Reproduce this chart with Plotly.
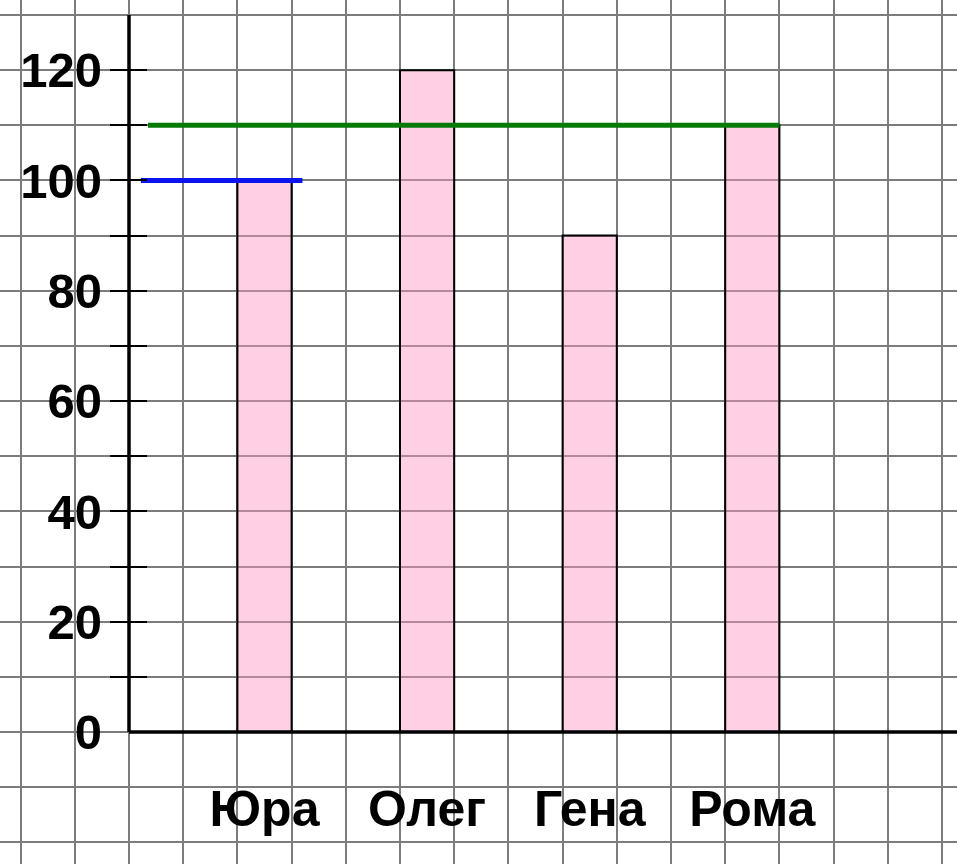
import plotly.graph_objects as go

# ---- data ----
names = ["Юра", "Олег", "Гена", "Рома"]
scores = [100, 120, 90, 110]
y_tick_values = [0, 20, 40, 60, 80, 100, 120]
y_tick_labels = ["0", "20", "40", "60", "80", "100", "120"]
minor_tick_values = [10, 20, 30, 40, 50, 60, 70, 80, 90, 100, 110, 120]

# ---- layout constants (grid paper in cell units) ----
W, H = 957, 864
cell_px = 54.2
x_axis_px = 129
y0_px, y130_px = 732, 15
y_scale = (y0_px - y130_px) / 130.0
x_range = [-x_axis_px / cell_px, (W - x_axis_px) / cell_px]
y_range = [-(H - y0_px) / y_scale, y0_px / y_scale]
bar_pos = [2.5 + 3 * i for i in range(len(names))]
y_axis_top = 130
tick_left_px, tick_right_px = 19, 18

fig = go.Figure()

fig.add_trace(go.Bar(
    x=bar_pos, y=scores, width=1,
    marker=dict(color="rgba(255,150,195,0.45)", line=dict(color="black", width=2)),
    showlegend=False, hoverinfo="skip",
))

# level lines for Юра and Рома
lines = [(0, 0.22, 0.2, "#0a14f0", 5), (3, 0.35, 0.0, "#087a08", 5)]
for idx, start, extra, color, w in lines:
    fig.add_trace(go.Scatter(
        x=[start, bar_pos[idx] + 0.5 + extra], y=[scores[idx], scores[idx]],
        mode="lines", line=dict(color=color, width=w),
        showlegend=False, hoverinfo="skip",
    ))

# axis lines
fig.add_shape(type="line", xref="x", yref="y", x0=0, x1=0, y0=0, y1=y_axis_top,
              line=dict(color="black", width=3.5), layer="above")
fig.add_shape(type="line", xref="x", yref="y", x0=0, x1=x_range[1], y0=0, y1=0,
              line=dict(color="black", width=3.5), layer="above")

x_pos_paper = (0 - x_range[0]) / (x_range[1] - x_range[0])
tick_axis_paper = (tick_right_px / cell_px - x_range[0]) / (x_range[1] - x_range[0])
y_pos_paper = (0 - y_range[0]) / (y_range[1] - y_range[0])

grid = dict(showgrid=True, gridcolor="#7c7c7c", gridwidth=1.5, zeroline=False,
            showticklabels=False, ticks="", layer="above traces", automargin=False)
fig.update_layout(
    width=W, height=H,
    margin=dict(l=0, r=0, t=0, b=0, pad=0, autoexpand=False),
    paper_bgcolor="white", plot_bgcolor="white",
    xaxis=dict(range=x_range, tick0=0, dtick=1, **grid),
    yaxis=dict(range=y_range, tick0=0, dtick=10, **grid),
    xaxis2=dict(overlaying="x", range=x_range, anchor="free", position=y_pos_paper,
                tickmode="array", tickvals=bar_pos, ticktext=names, automargin=False,
                showgrid=False, zeroline=False, ticks="", ticklabelstandoff=43,
                tickfont=dict(family="Liberation Sans", size=50, color="black",
                              weight="bold")),
    yaxis2=dict(overlaying="y", range=y_range, anchor="free", position=x_pos_paper,
                tickmode="array", tickvals=y_tick_values, ticktext=y_tick_labels,
                showgrid=False, zeroline=False, ticks="", ticklabelstandoff=27,
                automargin=False,
                tickfont=dict(family="Liberation Sans", size=49, color="black",
                              weight="bold")),
    yaxis3=dict(overlaying="y", range=y_range, anchor="free", position=tick_axis_paper,
                tickmode="array", tickvals=minor_tick_values, showticklabels=False,
                showgrid=False, zeroline=False, ticks="outside",
                ticklen=tick_left_px + tick_right_px,
                tickwidth=2, tickcolor="black", automargin=False),
)
# dummy traces so overlay axes render
for ax in ["y2", "y3"]:
    fig.add_trace(go.Scatter(x=[None], y=[None], yaxis=ax, showlegend=False, hoverinfo="skip"))
fig.add_trace(go.Scatter(x=[None], y=[None], xaxis="x2", showlegend=False, hoverinfo="skip"))

fig.write_html("out.html", config={"displayModeBar": False},
               post_script="document.body.style.margin='0px';document.body.style.padding='0px';")
